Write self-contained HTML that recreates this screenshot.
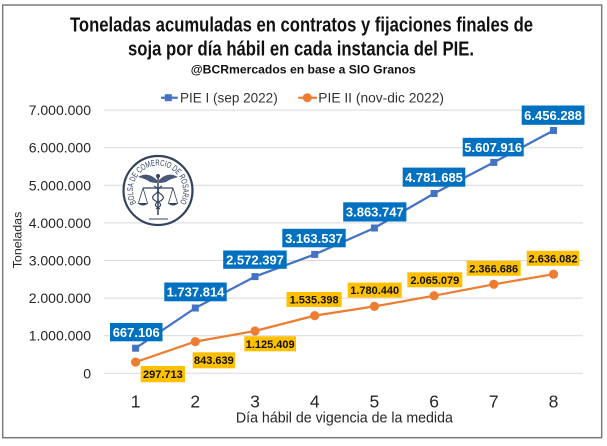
<!DOCTYPE html>
<html>
<head>
<meta charset="utf-8">
<style>
html,body{margin:0;padding:0;background:#fff;}
svg{display:block;}
</style>
</head>
<body>
<svg width="607" height="446" viewBox="0 0 607 446" xmlns="http://www.w3.org/2000/svg">
  <rect x="0" y="0" width="607" height="446" fill="#ffffff"/>
  <rect x="2.7" y="5" width="599" height="432.7" fill="#ffffff" stroke="#7a7a7a" stroke-width="1.5"/>

  <!-- Title -->
  <g font-family="'Liberation Sans Narrow','Liberation Sans',sans-serif" font-weight="bold" fill="#111" text-anchor="middle">
    <text x="301.5" y="31.7" font-size="20" textLength="463" lengthAdjust="spacingAndGlyphs">Toneladas acumuladas en contratos y fijaciones finales de</text>
    <text x="301" y="55.5" font-size="20" textLength="346" lengthAdjust="spacingAndGlyphs">soja por día hábil en cada instancia del PIE.</text>
    <text x="303.3" y="73.5" font-size="11.5" textLength="225" lengthAdjust="spacingAndGlyphs">@BCRmercados en base a SIO Granos</text>
  </g>

  <!-- Legend -->
  <line x1="161" y1="97.7" x2="177.7" y2="97.7" stroke="#4472C4" stroke-width="2.25"/>
  <rect x="164.8" y="94.2" width="7" height="7" fill="#4472C4"/>
  <text x="180" y="102.3" font-family="'Liberation Sans',sans-serif" font-size="14" fill="#333" textLength="97.7" lengthAdjust="spacingAndGlyphs">PIE I (sep 2022)</text>
  <line x1="298.3" y1="97.7" x2="317" y2="97.7" stroke="#ED7D31" stroke-width="2.25"/>
  <circle cx="307.3" cy="97.7" r="4.5" fill="#ED7D31"/>
  <text x="318.3" y="102.3" font-family="'Liberation Sans',sans-serif" font-size="14" fill="#333" textLength="125.7" lengthAdjust="spacingAndGlyphs">PIE II (nov-dic 2022)</text>

  <!-- Gridlines -->
  <g stroke="#d9d9d9" stroke-width="1">
    <line x1="104" y1="373.3" x2="583" y2="373.3"/>
    <line x1="104" y1="335.7" x2="583" y2="335.7"/>
    <line x1="104" y1="298.1" x2="583" y2="298.1"/>
    <line x1="104" y1="260.5" x2="583" y2="260.5"/>
    <line x1="104" y1="222.9" x2="583" y2="222.9"/>
    <line x1="104" y1="185.3" x2="583" y2="185.3"/>
    <line x1="104" y1="147.7" x2="583" y2="147.7"/>
    <line x1="104" y1="110.1" x2="583" y2="110.1"/>
  </g>

  <!-- Y tick labels -->
  <g font-family="'Liberation Sans',sans-serif" font-size="14" fill="#262626" text-anchor="end">
    <text x="91" y="378.3">0</text>
    <text x="91" y="340.7">1.000.000</text>
    <text x="91" y="303.1">2.000.000</text>
    <text x="91" y="265.5">3.000.000</text>
    <text x="91" y="227.9">4.000.000</text>
    <text x="91" y="190.3">5.000.000</text>
    <text x="91" y="152.7">6.000.000</text>
    <text x="91" y="115.1">7.000.000</text>
  </g>

  <!-- Y axis title -->
  <text x="0" y="0" transform="translate(21.3,240) rotate(-90)" font-family="'Liberation Sans',sans-serif" font-size="12" fill="#262626" text-anchor="middle" textLength="56.6" lengthAdjust="spacingAndGlyphs">Toneladas</text>

  <!-- X tick labels -->
  <g font-family="'Liberation Sans',sans-serif" font-size="17.5" fill="#262626" text-anchor="middle">
    <text x="135.6" y="407.5">1</text>
    <text x="195.3" y="407.5">2</text>
    <text x="255.0" y="407.5">3</text>
    <text x="314.7" y="407.5">4</text>
    <text x="374.4" y="407.5">5</text>
    <text x="434.1" y="407.5">6</text>
    <text x="493.8" y="407.5">7</text>
    <text x="553.5" y="407.5">8</text>
  </g>
  <text x="344.4" y="422.5" font-family="'Liberation Sans',sans-serif" font-size="15" fill="#262626" text-anchor="middle" textLength="217" lengthAdjust="spacingAndGlyphs">Día hábil de vigencia de la medida</text>

  <!-- Logo -->
  <g>
    <circle cx="158" cy="190.5" r="34.5" fill="#fff" stroke="#34415f" stroke-width="2.2"/>
    <path id="logoarc" d="M136.35 203 A25 25 0 1 1 179.65 203" fill="none"/>
    <text font-family="'Liberation Sans',sans-serif" font-size="8.5" fill="#34415f"><textPath href="#logoarc" textLength="104" lengthAdjust="spacingAndGlyphs">BOLSA DE COMERCIO DE ROSARIO</textPath></text>
    <line x1="149" y1="219" x2="168" y2="219" stroke="#34415f" stroke-width="1"/>
    <!-- wings -->
    <path d="M157 180 Q148 171 138 177 Q146 179 150 182 Q154 183 157 183 Z" fill="#4a5878"/>
    <path d="M159 180 Q168 171 178 177 Q170 179 166 182 Q162 183 159 183 Z" fill="#4a5878"/>
    <circle cx="158" cy="176" r="2" fill="#34415f"/>
    <!-- staff -->
    <line x1="158" y1="176" x2="158" y2="215" stroke="#34415f" stroke-width="1.5"/>
    <path d="M154 186 Q162 190 154 195 Q150 199 158 202 Q164 205 156 209" fill="none" stroke="#34415f" stroke-width="1.2"/>
    <path d="M162 186 Q154 190 162 195 Q166 199 158 202 Q152 205 160 209" fill="none" stroke="#34415f" stroke-width="1.2"/>
    <!-- scales -->
    <line x1="143" y1="188" x2="173" y2="188" stroke="#34415f" stroke-width="1.2"/>
    <path d="M143 188 L138.5 203 M143 188 L147.5 203" stroke="#34415f" stroke-width="0.8" fill="none"/>
    <path d="M173 188 L168.5 203 M173 188 L177.5 203" stroke="#34415f" stroke-width="0.8" fill="none"/>
    <path d="M137.5 203 Q143 208 148.5 203 Z" fill="#34415f"/>
    <path d="M167.5 203 Q173 208 178.5 203 Z" fill="#34415f"/>
  </g>

  <!-- Blue series -->
  <polyline points="135.6,348.2 195.3,308.0 255.0,276.6 314.7,254.4 374.4,228.0 434.1,193.5 493.8,162.4 553.5,130.5" fill="none" stroke="#4472C4" stroke-width="2.25" stroke-linejoin="round"/>
  <g fill="#4472C4">
    <rect x="132.1" y="344.7" width="7" height="7"/>
    <rect x="191.8" y="304.5" width="7" height="7"/>
    <rect x="251.5" y="273.1" width="7" height="7"/>
    <rect x="311.2" y="250.9" width="7" height="7"/>
    <rect x="370.9" y="224.5" width="7" height="7"/>
    <rect x="430.6" y="190.0" width="7" height="7"/>
    <rect x="490.3" y="158.9" width="7" height="7"/>
    <rect x="550.0" y="127.0" width="7" height="7"/>
  </g>

  <!-- Orange series -->
  <polyline points="135.6,362.1 195.3,341.6 255.0,331.0 314.7,315.6 374.4,306.4 434.1,295.7 493.8,284.3 553.5,274.2" fill="none" stroke="#ED7D31" stroke-width="2.25" stroke-linejoin="round"/>
  <g fill="#ED7D31">
    <circle cx="135.6" cy="362.1" r="4.6"/>
    <circle cx="195.3" cy="341.6" r="4.6"/>
    <circle cx="255.0" cy="331.0" r="4.6"/>
    <circle cx="314.7" cy="315.6" r="4.6"/>
    <circle cx="374.4" cy="306.4" r="4.6"/>
    <circle cx="434.1" cy="295.7" r="4.6"/>
    <circle cx="493.8" cy="284.3" r="4.6"/>
    <circle cx="553.5" cy="274.2" r="4.6"/>
  </g>

  <!-- Blue labels -->
  <g fill="#0070C0">
    <rect x="110" y="323" width="52.5" height="18.3"/>
    <rect x="164.3" y="282.5" width="62.4" height="18.8"/>
    <rect x="223.2" y="250.5" width="63.5" height="18.3"/>
    <rect x="282.3" y="228.8" width="63.4" height="18.5"/>
    <rect x="343.2" y="202.3" width="63.2" height="19.2"/>
    <rect x="402.7" y="167.6" width="62.6" height="19.1"/>
    <rect x="462.7" y="137.8" width="61" height="18.6"/>
    <rect x="521.7" y="105.5" width="62.8" height="19.3"/>
  </g>
  <g font-family="'Liberation Sans',sans-serif" font-size="13" font-weight="bold" fill="#ffffff" text-anchor="middle">
    <text x="136.2" y="337">667.106</text>
    <text x="195.5" y="296.6">1.737.814</text>
    <text x="255.0" y="264.4">2.572.397</text>
    <text x="314.0" y="242.8">3.163.537</text>
    <text x="374.8" y="216.6">3.863.747</text>
    <text x="434.0" y="181.8">4.781.685</text>
    <text x="493.2" y="151.8">5.607.916</text>
    <text x="553.1" y="119.8">6.456.288</text>
  </g>

  <!-- Yellow labels -->
  <g fill="#FFC000">
    <rect x="140.7" y="366" width="44.3" height="16.3"/>
    <rect x="192.7" y="352.3" width="42.3" height="16"/>
    <rect x="244.3" y="336.3" width="51.7" height="15"/>
    <rect x="286.5" y="292" width="55.2" height="15"/>
    <rect x="347.7" y="282.6" width="54" height="15"/>
    <rect x="407.3" y="272.3" width="55" height="15"/>
    <rect x="466.7" y="260.8" width="54" height="15"/>
    <rect x="526.7" y="250.8" width="52.6" height="15"/>
  </g>
  <g font-family="'Liberation Sans',sans-serif" font-size="11" font-weight="bold" fill="#111" text-anchor="middle">
    <text x="162.9" y="378.2">297.713</text>
    <text x="213.9" y="364.2">843.639</text>
    <text x="270.2" y="347.8">1.125.409</text>
    <text x="314.1" y="303.5">1.535.398</text>
    <text x="374.7" y="294.1">1.780.440</text>
    <text x="434.8" y="283.8">2.065.079</text>
    <text x="493.7" y="272.3">2.366.686</text>
    <text x="553.0" y="262.3">2.636.082</text>
  </g>
</svg>
</body>
</html>
